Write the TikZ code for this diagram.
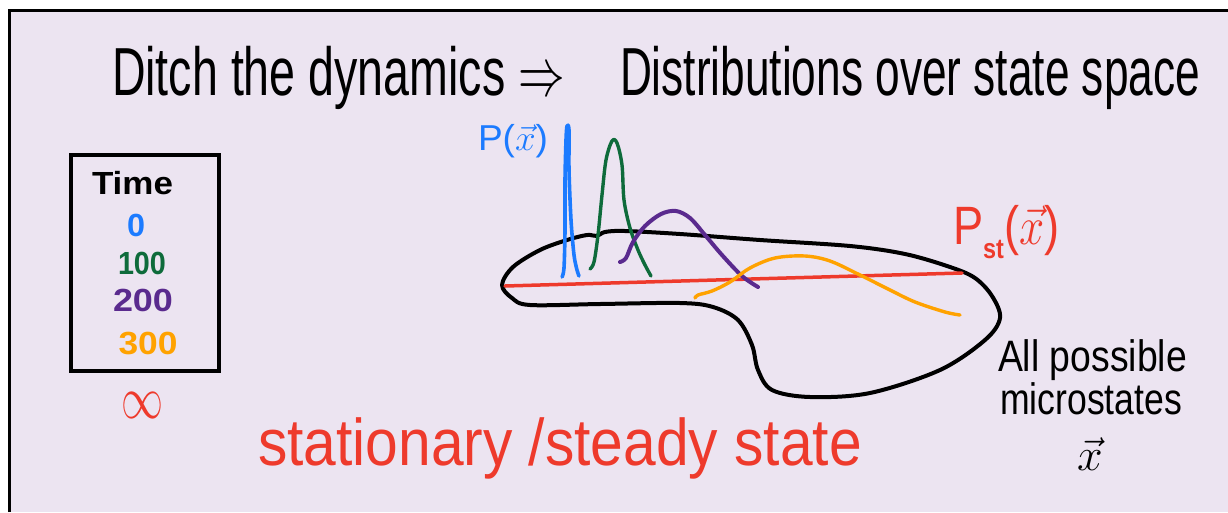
\RequirePackage{fix-cm}
\documentclass[tikz,border=0pt]{standalone}
\usepackage{fontspec}
\setmainfont{Liberation Sans}
\usepackage{graphicx}
\definecolor{bg}{HTML}{ECE4F1}
\definecolor{pblue}{HTML}{1C7BFF}
\definecolor{pgreen}{HTML}{0E6B3B}
\definecolor{ppurple}{HTML}{5A2A8E}
\definecolor{porange}{HTML}{FFA200}
\definecolor{pred}{HTML}{EE3A2C}
\tikzset{
  lbl/.style={anchor=base west, inner sep=0pt, outer sep=0pt},
  cnum/.style={anchor=base, inner sep=0pt, outer sep=0pt},
  curve/.style={line width=3.8pt, line cap=round, line join=round},
  fsz/.style={font=\fontsize{#1}{#1}\selectfont}
}
\begin{document}
\begin{tikzpicture}[x=1pt,y=-1pt]
\useasboundingbox (0,0) rectangle (1228,512);
\fill[white] (0,0) rectangle (1228,512);
\fill[bg] (9,10) rectangle (1228,512);
\draw[line width=3pt] (9.5,512) -- (9.5,10.5) -- (1228,10.5);

% title
\node[lbl, fsz=68] (t1) at (112,95) {\resizebox{453pt}{\height}{Ditch the dynamics $\Rightarrow$}};
\node[lbl, fsz=68] (t2) at (620,95) {\resizebox{580pt}{\height}{Distributions over state space}};

% legend box
\node[draw, line width=4pt, minimum width=148pt, minimum height=216pt, inner sep=0pt] (box) at (145,263) {};
\node[lbl, fsz=32] (time) at (92,194) {\resizebox{81pt}{\height}{\bfseries Time}};
\node[cnum, fsz=32, text=pblue] (n0) at (136,236) {\resizebox{18pt}{\height}{\bfseries 0}};
\node[cnum, fsz=32, text=pgreen] (n100) at (142,274) {\resizebox{48pt}{\height}{\bfseries 100}};
\node[cnum, fsz=32, text=ppurple] (n200) at (143,311) {\resizebox{60pt}{\height}{\bfseries 200}};
\node[cnum, fsz=32, text=porange] (n300) at (148,354) {\resizebox{59pt}{\height}{\bfseries 300}};
\node[inner sep=0pt, text=pred] (ninf) at (142,405) {\resizebox{42pt}{26pt}{$\infty$}};

% state-space blob
\draw[line width=4pt, line join=round] plot[smooth cycle, tension=0.55] coordinates {
 (502,285) (513,267) (540,250) (567,240) (587,235) (597,236) (605,232) (625,231)
 (680,234) (760,240) (850,246) (905,254) (950,267) (975,278) (992,296) (1000,318)
 (985,340) (940,370) (870,393) (810,397) (772,390) (758,370) (752,345) (738,320)
 (713,307) (680,303) (600,304) (530,305) (512,298)};

% distributions
\draw[curve, pred, line width=3.5pt] (505,286) -- (962,273);
\draw[curve, pblue, line width=3.6pt] plot[smooth, tension=0.5] coordinates {
 (562,277) (564,268) (565,230) (565,180) (566,140) (567,126) (569,130) (569,170) (571,220) (574,255) (577,270) (579,276)};
\draw[curve, pgreen, line width=3.4pt] plot[smooth, tension=0.55] coordinates {
 (590,269) (594,262) (598,235) (602,195) (606,160) (612,141) (617,143) (622,165) (624,200) (630,228) (638,250) (645,265) (651,276)};
\draw[curve, ppurple, line width=4pt] plot[smooth, tension=0.55] coordinates {
 (620,262) (626,258) (633,242) (645,226) (661,214) (676,211) (690,218) (705,235) (722,255) (742,276) (758,287)};
\draw[curve, porange, line width=3.4pt] plot[smooth, tension=0.55] coordinates {
 (695,298) (698,295) (712,291) (730,282) (750,268) (775,258) (805,256) (830,261) (860,275) (890,290) (915,302) (945,312) (960,315)};

% labels
\node[lbl, fsz=36, text=pblue] (px) at (478,150) {\resizebox{70pt}{\height}{P($\vec{x}$)}};
\node[lbl, fsz=54, text=pred] (pst) at (953,244) {\resizebox{107pt}{\height}{P\raisebox{-14pt}{\fontsize{28}{28}\selectfont\bfseries st}\hspace{1pt}($\vec{x}$)}};
\node[lbl, fsz=44] (all) at (998,371) {\resizebox{189pt}{\height}{All possible}};
\node[lbl, fsz=44] (micro) at (1000,414) {\resizebox{182pt}{\height}{microstates}};
\node[cnum, fsz=46] (xv) at (1090,470) {$\vec{x}$};
\node[lbl, fsz=66, text=pred] (stat) at (258,465) {\resizebox{604pt}{\height}{stationary /steady state}};
\end{tikzpicture}
\end{document}
